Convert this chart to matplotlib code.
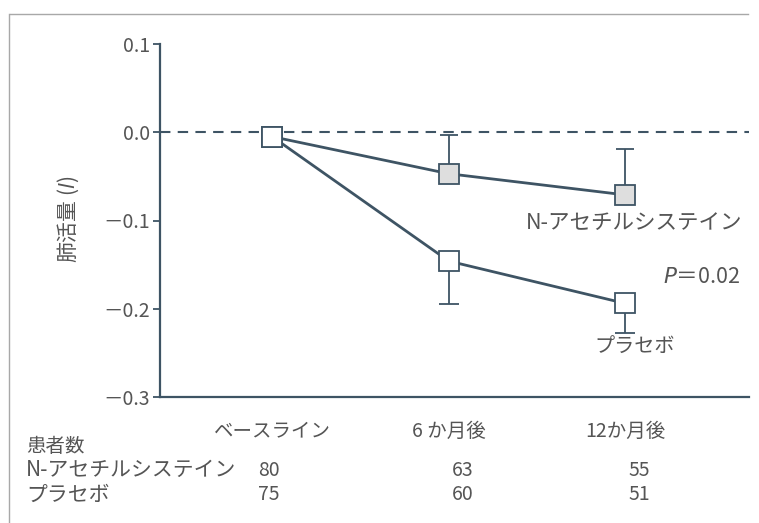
import matplotlib
matplotlib.use('Agg')
import matplotlib.pyplot as plt
from matplotlib.lines import Line2D
from matplotlib.transforms import blended_transform_factory

plt.rcParams['font.family'] = ['Noto Sans CJK JP', 'DejaVu Sans']
plt.rcParams['mathtext.fontset'] = 'dejavusans'

# 時点と群ごとの肺活量変化
timepoints = ['ベースライン', '6 か月後', '12か月後']
nac_mean = [-0.005, -0.047, -0.071]
nac_upper = [-0.005, -0.003, -0.019]
placebo_mean = [-0.005, -0.146, -0.194]
placebo_lower = [-0.005, -0.195, -0.227]
yticks = [0.1, 0.0, -0.1, -0.2, -0.3]

# 患者数
n_groups = ['N-アセチルシステイン', 'プラセボ']
n_nac = [80, 63, 55]
n_placebo = [75, 60, 51]

line_c = '#3e5464'
text_c = '#555555'
W, H = 759, 523

fig = plt.figure(figsize=(W / 100, H / 100), dpi=100)
ax = fig.add_axes([160 / W, 1 - 397 / H, (749 - 160) / W, (397 - 44) / H])

x = list(range(len(timepoints)))

# ゼロの基準線
ax.axhline(0, color=line_c, lw=1.5, ls=(0, (5, 3.5)), zorder=1)

nac_err = [[0] * 3, [u - m for u, m in zip(nac_upper, nac_mean)]]
pl_err = [[m - l for m, l in zip(placebo_mean, placebo_lower)], [0] * 3]

ax.errorbar(x, nac_mean, yerr=nac_err, color=line_c, lw=2, capsize=6.5,
            elinewidth=1.3, capthick=1.3, marker='s', ms=14,
            mfc='#dedede', mec=line_c, mew=1.3, zorder=3)
ax.errorbar(x, placebo_mean, yerr=pl_err, color=line_c, lw=2, capsize=7,
            elinewidth=1.3, capthick=1.3, marker='s', ms=14,
            mfc='white', mec=line_c, mew=1.3, zorder=4)

ax.set_xlim(-0.635, 2.70)
ax.set_ylim(-0.3, 0.1)
ax.set_yticks(yticks)
ax.set_yticklabels([('\uff0d' if v < 0 else '') + f'{abs(v):.1f}' for v in yticks])
ax.set_xticks(x)
ax.set_xticklabels(timepoints)
ax.tick_params(axis='x', length=0, pad=17, labelsize=14, colors=text_c)
ax.tick_params(axis='y', length=5, width=1.3, color=line_c, pad=2,
               labelsize=14, labelcolor=text_c)
for s in ['top', 'right']:
    ax.spines[s].set_visible(False)
for s in ['left', 'bottom']:
    ax.spines[s].set_color(line_c)
    ax.spines[s].set_linewidth(1.6)

fig.text(68 / W, 1 - 219 / H, '肺活量 ($\\it{l}$)', rotation=90,
         ha='center', va='center', fontsize=15, color=text_c)

ax.text(2.05, -0.103, 'N-アセチルシステイン', ha='center', va='center',
        fontsize=15.5, color=text_c)
ax.text(2.65, -0.164, '$\\it{P}$＝0.02', ha='right', va='center',
        fontsize=15.5, color=text_c)
ax.text(2.05, -0.244, 'プラセボ', ha='center', va='center',
        fontsize=14.5, color=text_c)

# 患者数の表
num_x = [-0.02, 1.08, 2.08]
tr = blended_transform_factory(ax.transData, fig.transFigure)
fig.text(26 / W, 1 - 446 / H, '患者数', ha='left', va='center',
         fontsize=14, color=text_c)
for row, (name, counts) in enumerate(zip(n_groups, [n_nac, n_placebo])):
    yy = 1 - (470 + row * 25) / H
    fig.text(26 / W, yy, name, ha='left', va='center', fontsize=15,
             color=text_c)
    for xi, n in zip(num_x, counts):
        ax.text(xi, yy, str(n), transform=tr, ha='center',
                va='center', fontsize=14, color=text_c, clip_on=False)

# 外枠の細線
fig.add_artist(Line2D([10 / W, 748 / W], [1 - 14 / H, 1 - 14 / H],
                      color='#a8a8a8', lw=1, transform=fig.transFigure))
fig.add_artist(Line2D([9 / W, 9 / W], [1 - 14 / H, 0],
                      color='#a8a8a8', lw=1, transform=fig.transFigure))

fig.savefig('out.png', dpi=100)
